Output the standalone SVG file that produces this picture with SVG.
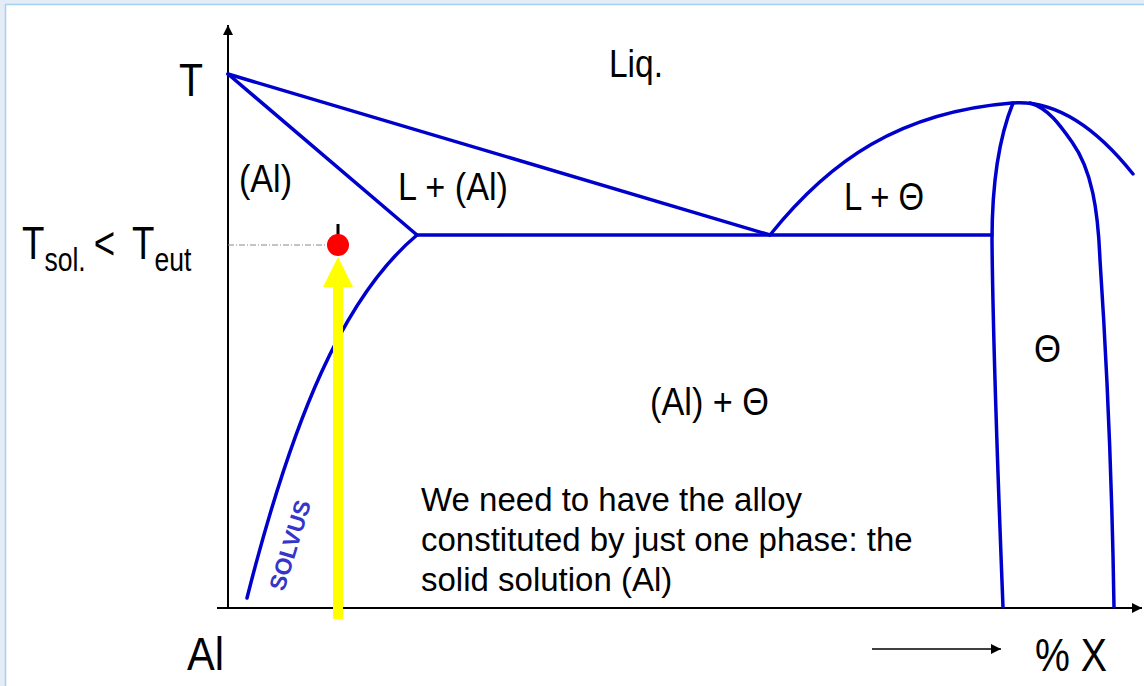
<svg xmlns="http://www.w3.org/2000/svg" width="1144" height="686" viewBox="0 0 1144 686">
<style>
text{font-family:"Liberation Sans",Arial,sans-serif;fill:#000}
.big{font-size:47px}
.lbl{font-size:38px}
.sub{font-size:34px}
.body{font-size:33px}
.phase{fill:none;stroke:#0000CC;stroke-width:3.5;stroke-linejoin:round;stroke-linecap:round}
.axis{stroke:#000;stroke-width:2;fill:none}
</style>
<defs>
<marker id="ah" viewBox="0 0 10 10" refX="10" refY="5" markerWidth="10" markerHeight="10" markerUnits="userSpaceOnUse" orient="auto">
<path d="M0,0 L10,5 L0,10 z" fill="#000"/>
</marker>
</defs>
<rect x="0" y="0" width="1144" height="686" fill="#E4EDF6"/>
<rect x="5.5" y="4.5" width="1150" height="690" fill="#fff" stroke="#A6D0F2" stroke-width="1.5"/>

<g id="axes">
<line class="axis" x1="228" y1="609" x2="228" y2="25" marker-end="url(#ah)"/>
<line class="axis" x1="217" y1="608" x2="1142" y2="608" marker-end="url(#ah)"/>
<line x1="872" y1="649" x2="1001" y2="649" stroke="#000" stroke-width="1.5" marker-end="url(#ah)"/>
</g>

<g id="connectors">
<path class="phase" d="M228,74 L770,235"/>
<path class="phase" d="M228,74 L417,235"/>
<path class="phase" d="M417,235 L992,235"/>
<path class="phase" d="M417,235 C343,297 292,420 247,598"/>
<path class="phase" d="M770,235 C830,160 900,112 1012,103 C1050,100 1090,120 1133,174"/>
<path class="phase" d="M1013,103 C998,140 992,190 992,240 C993,350 998,480 1003,607"/>
<path class="phase" d="M1030,103 C1048,108 1060,125 1072,142 C1092,170 1098,210 1100,260 C1106,350 1112,480 1114,607"/>
<line x1="228" y1="245" x2="327" y2="245" stroke="#888" stroke-width="1" stroke-dasharray="6,2,1,2"/>
</g>

<g id="alloy">
<path d="M333,619 L333,287 L323,287 L338,257 L353,287 L343,287 L343,619 z" fill="#FFFF00"/>
<line x1="338" y1="224" x2="338" y2="236" stroke="#000" stroke-width="3"/>
<circle cx="338" cy="245" r="11" fill="#FF0000"/>
</g>

<g id="labels">
<text class="big" x="179" y="96" textLength="24" lengthAdjust="spacingAndGlyphs">T</text>
<text class="lbl" x="609" y="77" textLength="54" lengthAdjust="spacingAndGlyphs">Liq.</text>
<text class="lbl" x="239" y="192" textLength="53" lengthAdjust="spacingAndGlyphs">(Al)</text>
<text class="lbl" x="398" y="200" textLength="110" lengthAdjust="spacingAndGlyphs">L + (Al)</text>
<text class="lbl" x="844" y="210" textLength="80" lengthAdjust="spacingAndGlyphs">L + Θ</text>
<text class="lbl" x="1034" y="362" textLength="27" lengthAdjust="spacingAndGlyphs">Θ</text>
<text class="lbl" x="650" y="415" textLength="119" lengthAdjust="spacingAndGlyphs">(Al) + Θ</text>
<text class="big" transform="translate(22,259) scale(0.78,1)">T<tspan class="sub" dy="12">sol.</tspan><tspan x="92" dy="-12">&lt;</tspan><tspan x="141">T</tspan><tspan class="sub" x="170" dy="12">eut</tspan></text>
<text class="big" x="187" y="670" textLength="37" lengthAdjust="spacingAndGlyphs">Al</text>
<text class="big" x="1035" y="671" textLength="72" lengthAdjust="spacingAndGlyphs">% X</text>
<text transform="translate(284,592) rotate(-73)" style="font-size:23px;font-weight:bold;fill:#3535CC">SOLVUS</text>
<text class="body" x="421" y="511">We need to have the alloy</text>
<text class="body" x="421" y="551">constituted by just one phase: the</text>
<text class="body" x="421" y="591">solid solution (Al)</text>
</g>
</svg>
